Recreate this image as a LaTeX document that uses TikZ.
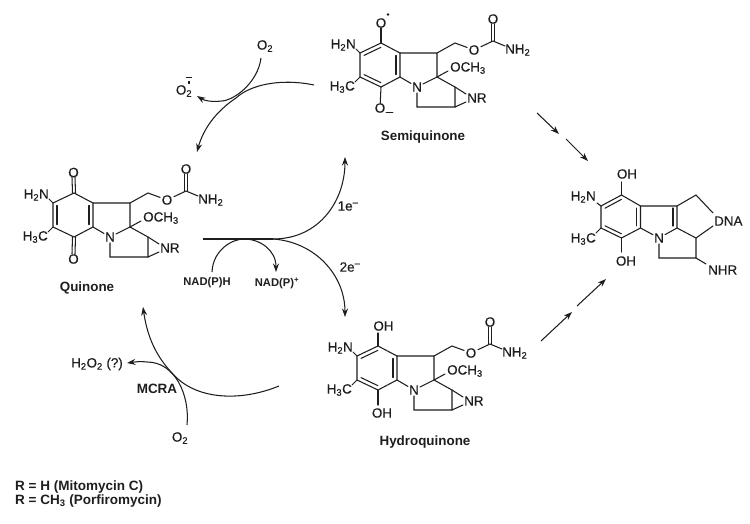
\documentclass[tikz,border=0pt]{standalone}
\usepackage{fontspec}
\setmainfont{Liberation Sans}
\newfontfamily\medfont[FakeBold=0.35]{Liberation Sans}
\usetikzlibrary{calc,arrows.meta}
\definecolor{ink}{HTML}{1E1E1E}
\newcommand{\bsub}[1]{\textsubscript{#1}}
\newcommand{\bsup}[1]{\textsuperscript{#1}}
\tikzset{
  atom/.style={inner sep=0pt,text=ink,font=\fontsize{13.4}{13.4}\selectfont\medfont},
  caption/.style={inner sep=0pt,text=ink,font=\fontsize{13.4}{13.4}\selectfont\bfseries},
  small/.style={inner sep=0pt,text=ink,font=\fontsize{11.2}{11.2}\selectfont\bfseries},
  mid/.style={inner sep=0pt,text=ink,font=\fontsize{13.5}{13.5}\selectfont\bfseries},
  radical/.style={circle,fill=ink,inner sep=0pt,minimum size=2.6pt},
  bond/.style={draw=ink,line width=1.05pt,line cap=round},
  cycle arrow/.style={draw=ink,line width=1.05pt,-{Stealth[length=8.5pt,width=6pt]}},
  cycle line/.style={draw=ink,line width=1.05pt},
}
% inner line of a double bond in a ring (pulled towards the ring centre)
\newcommand{\innerb}[3]{\draw[bond] ($(#1)!.2!(#3)$) -- ($(#2)!.2!(#3)$);}
% tricyclic core with the carbamate and aziridine, everything but the ring's substituents
\newcommand{\mitocore}[3]{%
\begin{scope}[shift={(#2,#3)},name prefix=#1-]
  \coordinate (c1) at (0,0);
  \coordinate (c2) at (19,10);
  \coordinate (c3) at (19,34);
  \coordinate (c4) at (0,44);
  \coordinate (c5) at (-21,34);
  \coordinate (c6) at (-21,10);
  \coordinate (ctr) at (-1,22);
  \coordinate (c7) at (56,10);
  \coordinate (c8) at (56,34);
  \coordinate (a1) at (74,0);
  \coordinate (cc) at (112,-2);
  \coordinate (az1) at (74,44);
  \coordinate (az2) at (74,64);
  \coordinate (ch2) at (36,64);
  \coordinate (nrt) at (85,51);
  \coordinate (nrb) at (85,59);
  \coordinate (meo) at (67,28);
  \coordinate (cna) at (-25,6);
  \coordinate (cme) at (-26,39);
  \coordinate (ccn) at (124,3);
  \node[atom,inner sep=1pt] (n) at (36,44) {N};
  \node[atom,inner sep=1.5pt] (oe) at (93,7) {O};
  \node[atom] (oc) at (112,-24) {O};
  \node[atom,anchor=west] (nh2) at (124,7) {NH\bsub{2}};
  \node[atom,anchor=west] (ome) at (69,25) {OCH\bsub{3}};
  \node[atom,anchor=west] (nr) at (86,55) {NR};
  \node[atom,anchor=east] (h2n) at (-25,2) {H\bsub{2}N};
  \node[atom,anchor=east] (h3c) at (-26,44) {H\bsub{3}C};
  \draw[bond] (c1)--(c2)--(c3)--(c4)--(c5)--(c6)--cycle;
  \draw[bond] (c2)--(c7)--(c8)--(n)--(c3);
  \draw[bond] (n)--(ch2)--(az2)--(az1)--(c8);
  \draw[bond] (c7)--(a1)--(oe)--(cc)--(ccn);
  \draw[bond] (c8)--(meo);
  \draw[bond] (az1)--(nrt);
  \draw[bond] (az2)--(nrb);
  \draw[bond] (c6)--(cna);
  \draw[bond] (c5)--(cme);
  \draw[bond] ([xshift=-1.5pt]cc)--([xshift=-1.5pt]oc.south);
  \draw[bond] ([xshift=1.5pt]cc)--([xshift=1.5pt]oc.south);
\end{scope}}
\begin{document}
\begin{tikzpicture}[x=1pt,y=-1pt]
\useasboundingbox (0,0) rectangle (750,524);
\fill[white] (0,0) rectangle (750,524);

% ---- Semiquinone
\mitocore{s}{381}{43}
\begin{scope}[name prefix=s-]
  \innerb{c1}{c6}{ctr} \innerb{c2}{c3}{ctr} \innerb{c4}{c5}{ctr}
  \node[atom] (otop) at (381,23) {O};
  \node[radical] (dot) at (388,14.5) {};
  \node[atom] (obot) at (380,108) {O};
  \node[atom] (minus) at (389.5,114) {–};
  \draw[bond] (c1)--(otop);
  \draw[bond] (c4)--(obot);
\end{scope}
\node[caption] (semi) at (423,137) {Semiquinone};

% ---- Quinone
\mitocore{q}{74}{193}
\begin{scope}[name prefix=q-]
  \innerb{c2}{c3}{ctr} \innerb{c5}{c6}{ctr}
  \node[atom] (otop) at (73.5,172.5) {O};
  \node[atom] (obot) at (73.5,259) {O};
  \draw[bond] ([xshift=-1.5pt]c1)--([xshift=-1.5pt]otop.south);
  \draw[bond] ([xshift=1.5pt]c1)--([xshift=1.5pt]otop.south);
  \draw[bond] ([xshift=-1.5pt]c4)--([xshift=-1.5pt]obot.north);
  \draw[bond] ([xshift=1.5pt]c4)--([xshift=1.5pt]obot.north);
\end{scope}
\node[caption] (quin) at (87,288) {Quinone};

% ---- Hydroquinone
\mitocore{h}{378}{346}
\begin{scope}[name prefix=h-]
  \innerb{c1}{c6}{ctr} \innerb{c2}{c3}{ctr} \innerb{c4}{c5}{ctr}
  \node[atom] (otop) at (383.5,326) {OH};
  \node[atom] (obot) at (382,413) {OH};
  \coordinate (otb) at (378,333);
  \coordinate (obt) at (378,405);
  \draw[bond] (c1)--(otb);
  \draw[bond] (c4)--(obt);
\end{scope}
\node[caption] (hydro) at (425,442) {Hydroquinone};

% ---- DNA adduct
\begin{scope}[name prefix=d-]
  \coordinate (c1) at (621.5,195);
  \coordinate (c2) at (640.5,206);
  \coordinate (c3) at (640.5,228);
  \coordinate (c4) at (621.5,238);
  \coordinate (c5) at (601,228);
  \coordinate (c6) at (601,206);
  \coordinate (ctr) at (621,217);
  \coordinate (c7) at (677,206);
  \coordinate (c8) at (677,228);
  \coordinate (c9) at (696,238);
  \coordinate (c10) at (696,258);
  \coordinate (c11) at (659,258);
  \coordinate (c12) at (696,195);
  \coordinate (dnt) at (713,213);
  \coordinate (dnb) at (713,226);
  \coordinate (cnh) at (706,264);
  \coordinate (cna) at (597,203);
  \coordinate (cme) at (596,233);
  \coordinate (otb) at (621.5,182);
  \coordinate (obt) at (621.5,252);
  \node[atom,inner sep=1pt] (n) at (659,238) {N};
  \node[atom] (otop) at (627,174) {OH};
  \node[atom] (obot) at (626,261) {OH};
  \node[atom,anchor=east] (h2n) at (596,197) {H\bsub{2}N};
  \node[atom,anchor=east] (h3c) at (596,239) {H\bsub{3}C};
  \node[atom,anchor=west] (dna) at (714,221) {DNA};
  \node[atom,anchor=west] (nhr) at (708,270) {NHR};
  \draw[bond] (c1)--(c2)--(c3)--(c4)--(c5)--(c6)--cycle;
  \draw[bond] (c2)--(c7)--(c8)--(n)--(c3);
  \draw[bond] (c8)--(c9)--(c10)--(c11)--(n);
  \draw[bond] (c7)--(c12)--(dnt);
  \draw[bond] (c9)--(dnb);
  \draw[bond] (c10)--(cnh);
  \draw[bond] (c6)--(cna);
  \draw[bond] (c5)--(cme);
  \draw[bond] (c1)--(otb);
  \draw[bond] (c4)--(obt);
  \innerb{c1}{c6}{ctr} \innerb{c2}{c3}{ctr} \innerb{c4}{c5}{ctr}
  \draw[bond] ([xshift=-4pt,yshift=-2pt]c7)--([xshift=-4pt,yshift=2pt]c8);
\end{scope}

% ---- Top left: semiquinone to quinone with O2
\node[atom] (o2a) at (265,46) {O\bsub{2}};
\node[atom] (sup) at (184,91) {O\bsub{2}};
\node[radical,rectangle,minimum size=2.8pt] (supd) at (189,82.5) {};
\node[atom] (supb) at (189,78) {\rule{6pt}{1pt}};
\coordinate (o2as) at (261,58);
\coordinate (o2at) at (197,96);
\coordinate (sqs) at (314,85);
\coordinate (sqt) at (197,152);
\draw[cycle arrow] (o2as) .. controls (258,82) and (235,100) .. (222,101) .. controls (212,102) and (205,101) .. (o2at);
\draw[cycle arrow] (sqs) .. controls (280,78) and (250,85) .. (236,98) .. controls (215,112) and (203,130) .. (sqt);

% ---- Middle: reduction
\coordinate (lineL) at (203,239);
\coordinate (split) at (273,239);
\coordinate (up) at (345,157);
\coordinate (down) at (345,317);
\coordinate (nadhs) at (212,272);
\coordinate (nadpt) at (276,272);
\draw[cycle line] (lineL)--(split);
\draw[cycle arrow] (split) .. controls (320,239) and (345,200) .. (up);
\draw[cycle arrow] (split) .. controls (315,242) and (345,275) .. (down);
\draw[cycle arrow] (nadhs) .. controls (213,250) and (232,239) .. (244,239) .. controls (260,239) and (276,250) .. (nadpt);
\node[small] (nadh) at (207,283) {NAD(P)H};
\node[small] (nadp) at (277,283) {NAD(P)\bsup{+}};
\node[atom] (e1) at (348,206) {1e\bsup{–}};
\node[atom] (e2) at (350,267) {2e\bsup{–}};

% ---- Bottom left: hydroquinone to quinone with O2
\coordinate (hqs) at (279,386);
\coordinate (hqt) at (143,307);
\coordinate (o2bs) at (187,425);
\coordinate (perox) at (127,363);
\draw[cycle arrow] (hqs) .. controls (240,402) and (195,400) .. (172,373) .. controls (155,355) and (147,335) .. (hqt);
\draw[cycle arrow] (o2bs) .. controls (190,395) and (175,362) .. (147,362) .. controls (140,361) and (135,362) .. (perox);
\node[atom] (h2o2) at (97,364) {H\bsub{2}O\bsub{2} (?)};
\node[mid] (mcra) at (157,389) {MCRA};
\node[atom] (o2b) at (180,438) {O\bsub{2}};

% ---- Right: paired arrows into the DNA adduct
\coordinate (a1s) at (537,113);
\coordinate (a1t) at (559,134);
\coordinate (a2s) at (566,139);
\coordinate (a2t) at (588,161);
\coordinate (b1s) at (541,341);
\coordinate (b1t) at (572,312);
\coordinate (b2s) at (577,306);
\coordinate (b2t) at (606,279);
\draw[cycle arrow] (a1s)--(a1t);
\draw[cycle arrow] (a2s)--(a2t);
\draw[cycle arrow] (b1s)--(b1t);
\draw[cycle arrow] (b2s)--(b2t);

% ---- Legend
\node[mid,anchor=west] (r1) at (15,487) {R = H (Mitomycin C)};
\node[mid,anchor=west] (r2) at (15,501) {R = CH\bsub{3} (Porfiromycin)};
\end{tikzpicture}
\end{document}
